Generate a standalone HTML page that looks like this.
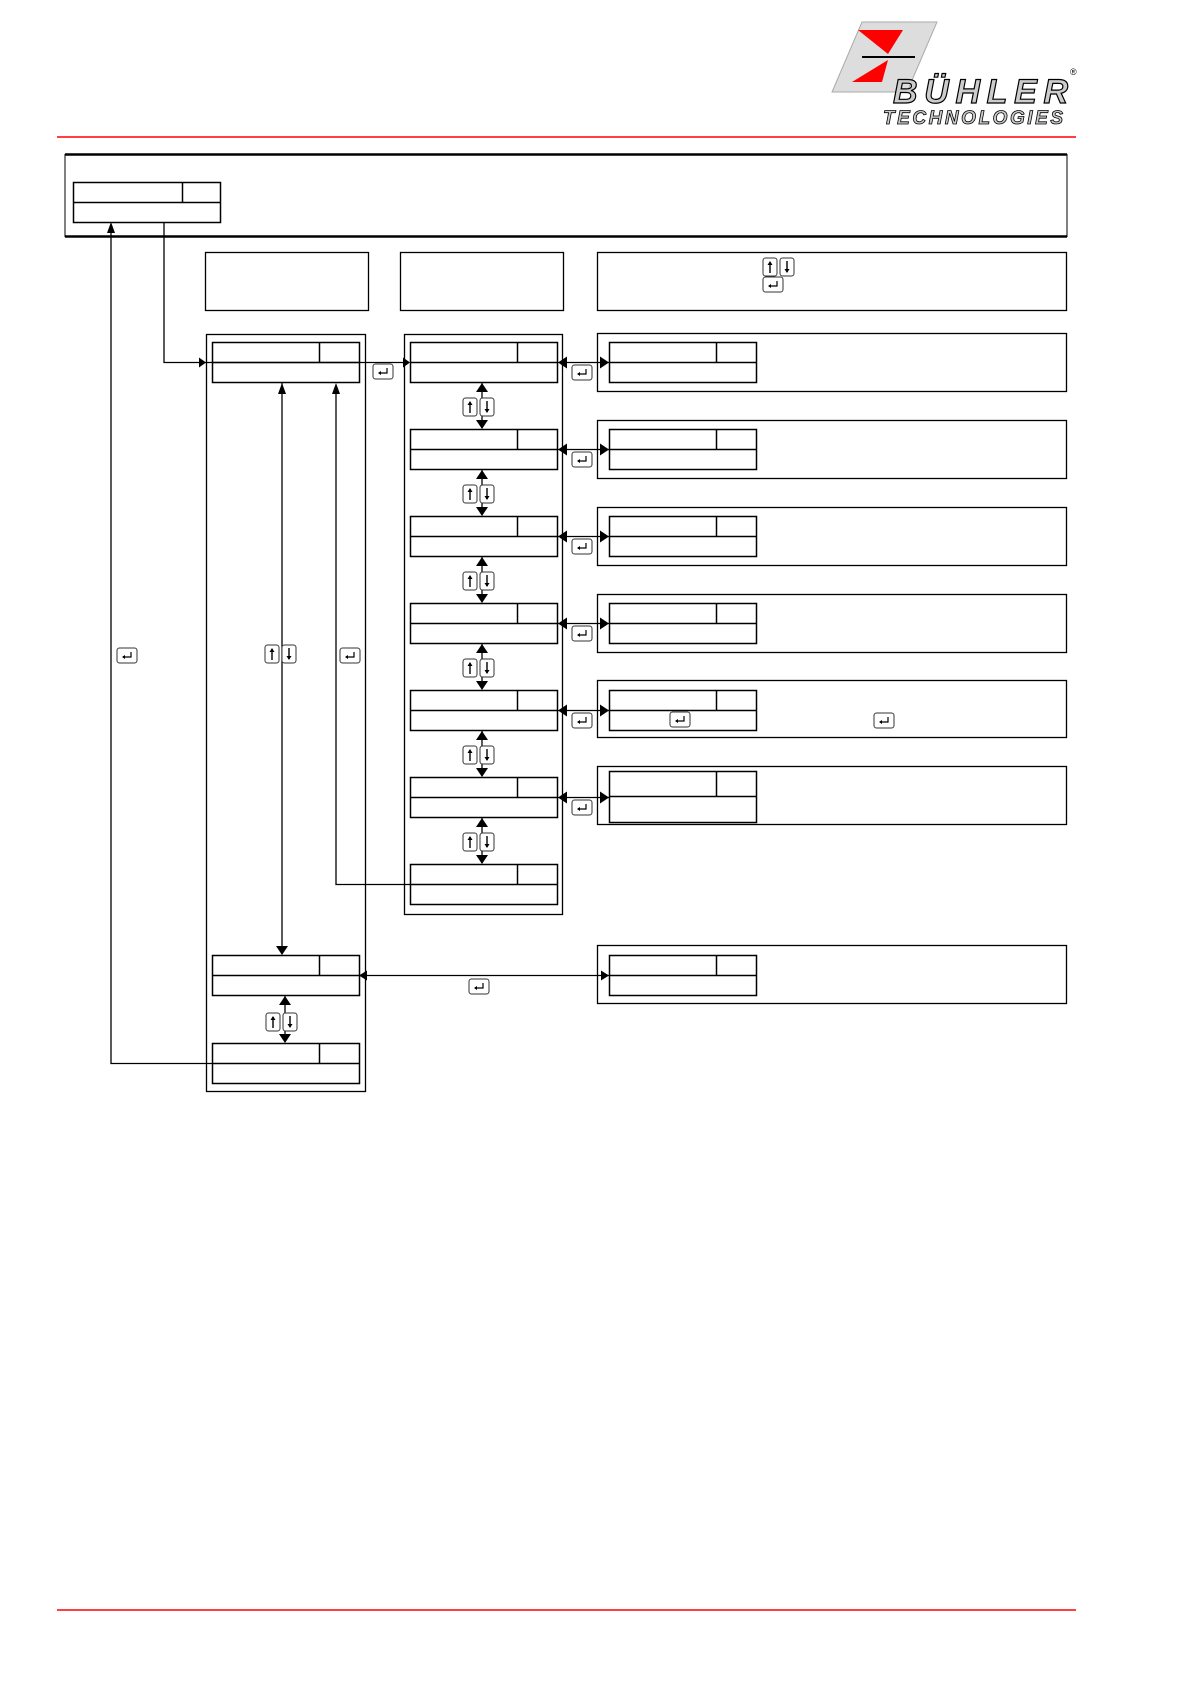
<!DOCTYPE html>
<html><head><meta charset="utf-8"><style>
html,body{margin:0;padding:0;background:#fff}
svg{display:block}
</style></head><body>
<svg width="1192" height="1685" viewBox="0 0 1192 1685" xmlns="http://www.w3.org/2000/svg" font-family="Liberation Sans, sans-serif">
<defs>
<g id="ent"><rect x="0" y="0" width="20" height="15" rx="2.5" fill="#fff" stroke="#333" stroke-width="1"/><path d="M14 4 V9 H6" fill="none" stroke="#000" stroke-width="1.2"/><path d="M5 9 L8 7 L8 11 Z" fill="#000"/></g>
<g id="ud"><rect x="0" y="0" width="14" height="18" rx="2.5" fill="#fff" stroke="#333"/><rect x="17" y="0" width="14" height="18" rx="2.5" fill="#fff" stroke="#333"/><path d="M7 15 V4" stroke="#000" stroke-width="1.4"/><path d="M7 3 L4.5 7 L9.5 7Z" fill="#000"/><path d="M24 3 V14" stroke="#000" stroke-width="1.4"/><path d="M24 15 L21.5 11 L26.5 11Z" fill="#000"/></g>
<g id="box"><rect x="0.5" y="0.5" width="147" height="40" fill="#fff" stroke="#000" stroke-width="1.5"/><line x1="0" y1="20.5" x2="148" y2="20.5" stroke="#000" stroke-width="1.5"/><line x1="107.5" y1="0" x2="107.5" y2="20" stroke="#000" stroke-width="1.5"/></g>
</defs>
<!-- logo -->
<polygon points="862,22 937,22 907,92 832,92" fill="#ddd" stroke="#aaa"/>
<polygon points="858,30 903,30 888,54" fill="#f00"/>
<line x1="862" y1="57" x2="915" y2="57" stroke="#000" stroke-width="2"/>
<polygon points="888,60 852,82 882,82" fill="#f00"/>
<text x="893" y="103" font-size="34" font-weight="bold" font-style="italic" fill="#ccc" stroke="#000" stroke-width="1.2" textLength="175">BÜHLER</text>
<text x="1070" y="75" font-size="9" fill="#000">®</text>
<text x="883" y="124" font-size="19" font-weight="bold" font-style="italic" fill="#ccc" stroke="#000" stroke-width="0.8" textLength="180">TECHNOLOGIES</text>
<line x1="57" y1="137" x2="1076" y2="137" stroke="#f00" stroke-width="1.5"/>
<line x1="57" y1="1610" x2="1076" y2="1610" stroke="#f00" stroke-width="1.5"/>
<!-- top box -->
<rect x="65" y="154.5" width="1002" height="82" fill="none" stroke="#000" stroke-width="1"/>
<line x1="65" y1="154.5" x2="1067" y2="154.5" stroke="#000" stroke-width="2.5"/>
<line x1="65" y1="236.5" x2="1067" y2="236.5" stroke="#000" stroke-width="2.5"/>
<rect x="73.5" y="182.5" width="147" height="40" fill="#fff" stroke="#000" stroke-width="1.5"/>
<line x1="73" y1="202.5" x2="221" y2="202.5" stroke="#000" stroke-width="1.5"/>
<line x1="182.5" y1="183" x2="182.5" y2="202" stroke="#000" stroke-width="1.5"/>
<!-- header boxes -->
<rect x="205.5" y="252.5" width="163" height="58" fill="none" stroke="#000" stroke-width="1.3"/>
<rect x="400.5" y="252.5" width="163" height="58" fill="none" stroke="#000" stroke-width="1.3"/>
<rect x="597.5" y="252.5" width="469" height="58" fill="none" stroke="#000" stroke-width="1.3"/>
<use href="#ud" x="763" y="258"/>
<use href="#ent" x="763" y="277"/>
<!-- columns -->
<rect x="206.5" y="334.5" width="159" height="757" fill="none" stroke="#000" stroke-width="1.3"/>
<rect x="404.5" y="334.5" width="158" height="580" fill="none" stroke="#000" stroke-width="1.3"/>
<use href="#box" x="212" y="342"/>
<use href="#box" x="212" y="955"/>
<use href="#box" x="212" y="1043"/>
<use href="#box" x="410" y="342"/><use href="#box" x="410" y="429"/><use href="#box" x="410" y="516"/><use href="#box" x="410" y="603"/><use href="#box" x="410" y="690"/><use href="#box" x="410" y="777"/><use href="#box" x="410" y="864"/>
<!-- right boxes -->
<g fill="none" stroke="#000" stroke-width="1.3">
<rect x="597.5" y="333.5" width="469" height="58"/>
<rect x="597.5" y="420.5" width="469" height="58"/>
<rect x="597.5" y="507.5" width="469" height="58"/>
<rect x="597.5" y="594.5" width="469" height="58"/>
<rect x="597.5" y="680.5" width="469" height="57"/>
<rect x="597.5" y="766.5" width="469" height="58"/>
<rect x="597.5" y="945.5" width="469" height="58"/>
</g>
<use href="#box" x="609" y="342"/><use href="#box" x="609" y="429"/><use href="#box" x="609" y="516"/><use href="#box" x="609" y="603"/><use href="#box" x="609" y="690"/>
<g><rect x="609.5" y="771.5" width="147" height="51" fill="#fff" stroke="#000" stroke-width="1.5"/><line x1="609" y1="796.5" x2="757" y2="796.5" stroke="#000" stroke-width="1.5"/><line x1="716.5" y1="771" x2="716.5" y2="796" stroke="#000" stroke-width="1.5"/></g>
<use href="#box" x="609" y="955"/>
<use href="#ent" x="670" y="712"/>
<use href="#ent" x="874" y="713"/>
<!-- connectors -->
<g stroke="#000" stroke-width="1.3" fill="none">
<polyline points="164,223 164,362.5 404,362.5"/>
<polyline points="111,225 111,1063.5 212,1063.5"/>
<line x1="558" y1="362.5" x2="609" y2="362.5"/>
<line x1="558" y1="449.5" x2="609" y2="449.5"/>
<line x1="558" y1="536.5" x2="609" y2="536.5"/>
<line x1="558" y1="623.5" x2="609" y2="623.5"/>
<line x1="558" y1="710.5" x2="609" y2="710.5"/>
<line x1="558" y1="797.5" x2="609" y2="797.5"/>
<line x1="482" y1="383" x2="482" y2="428"/>
<line x1="482" y1="470" x2="482" y2="515"/>
<line x1="482" y1="557" x2="482" y2="602"/>
<line x1="482" y1="644" x2="482" y2="689"/>
<line x1="482" y1="731" x2="482" y2="776"/>
<line x1="482" y1="818" x2="482" y2="863"/>
<line x1="282" y1="383" x2="282" y2="954"/>
<polyline points="336,385 336,884.5 410,884.5"/>
<line x1="285" y1="996" x2="285" y2="1042"/>
<line x1="359" y1="975.5" x2="609" y2="975.5"/>
</g>
<g fill="#000">
<path d="M111,222 l-4,11 h8z"/>
<path d="M206,362.5 l-7,-5 v10z"/>
<path d="M410,362.5 l-7,-5 v10z"/>
<g id="lr"><path d="M558,362.5 l9,-6 v12z"/><path d="M609,362.5 l-9,-6 v12z"/></g>
<use href="#lr" y="87"/><use href="#lr" y="174"/><use href="#lr" y="261"/><use href="#lr" y="348"/><use href="#lr" y="435"/>
<g id="vd"><path d="M482,383 l-6,9 h12z"/><path d="M482,429 l-6,-9 h12z"/></g>
<use href="#vd" y="87"/><use href="#vd" y="174"/><use href="#vd" y="261"/><use href="#vd" y="348"/><use href="#vd" y="435"/>
<path d="M282,383 l-4,11 h8z"/>
<path d="M282,955 l-6,-9 h12z"/>
<path d="M336,383 l-4,11 h8z"/>
<path d="M285,996 l-6,9 h12z"/>
<path d="M285,1043 l-6,-9 h12z"/>
<path d="M359,975.5 l8,-5 v10z"/>
<path d="M609,975.5 l-8,-5 v10z"/>
</g>
<!-- icons -->
<use href="#ent" x="373" y="364"/>
<use href="#ent" x="572" y="365"/>
<use href="#ent" x="572" y="452"/>
<use href="#ent" x="572" y="539"/>
<use href="#ent" x="572" y="626"/>
<use href="#ent" x="572" y="713"/>
<use href="#ent" x="572" y="800"/>
<use href="#ud" x="463" y="398"/><use href="#ud" x="463" y="485"/><use href="#ud" x="463" y="572"/><use href="#ud" x="463" y="659"/><use href="#ud" x="463" y="746"/><use href="#ud" x="463" y="833"/>
<use href="#ud" x="265" y="645"/>
<use href="#ud" x="266" y="1013"/>
<use href="#ent" x="117" y="648"/>
<use href="#ent" x="340" y="648"/>
<use href="#ent" x="469" y="979"/>
</svg>
</body></html>
